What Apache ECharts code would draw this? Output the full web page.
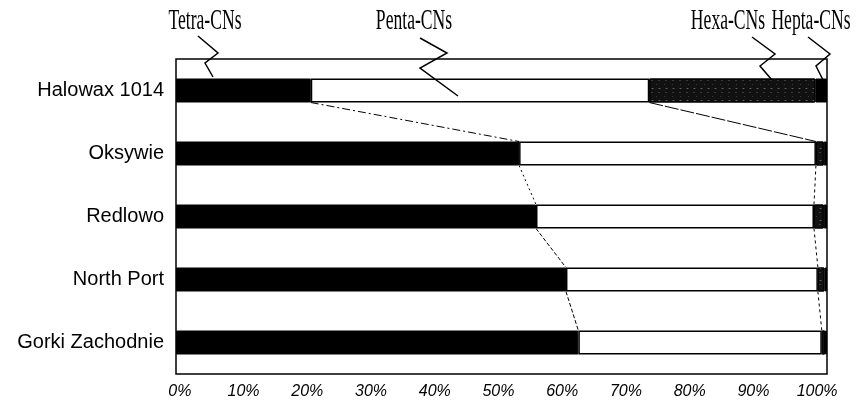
<!DOCTYPE html>
<html>
<head>
<meta charset="utf-8">
<script src="https://cdn.jsdelivr.net/npm/echarts@6/dist/echarts.min.js"></script>
<style>
  html, body { margin: 0; padding: 0; background: #fff; }
  #main { width: 856px; height: 412px; }
</style>
</head>
<body>
<div id="main"></div>
<script>
// 样品
const categories = ['Halowax 1014', 'Oksywie', 'Redlowo', 'North Port', 'Gorki Zachodnie'];
// 各同类物百分比
const tetra = [20.7, 52.7, 55.3, 59.9, 61.8];
const penta = [52.0, 45.6, 42.7, 38.7, 37.4];
const hexa = [25.5, 1.2, 1.5, 1.0, 0.5];
const hepta = [1.8, 0.5, 0.5, 0.4, 0.3];
const xTicks = [0, 10, 20, 30, 40, 50, 60, 70, 80, 90, 100];

let myChart = echarts.init(document.getElementById('main'));

// 连接线: 相邻样品之间 tetra / penta 分界
let links = [];
for (let i = 0; i < categories.length - 1; i++) {
    links.push([tetra[i], tetra[i + 1], tetra[i] + penta[i], tetra[i + 1] + penta[i + 1], i]);
}
const barW = 24;

let option = {
    animation: false,
    grid: {
        left: 176,
        right: 29,
        top: 59,
        bottom: 38,
        show: true,
        borderColor: '#000',
        borderWidth: 1.5,
        backgroundColor: '#fff'
    },
    xAxis: [
        {
            type: 'value',
            min: 0,
            max: 100,
            axisLine: { show: false },
            axisTick: { show: false },
            splitLine: { show: false },
            axisLabel: { show: false }
        },
        {
            // 仅用于刻度文字 (原图文字略偏左)
            type: 'value',
            position: 'bottom',
            min: -0.6,
            max: 101.55,
            axisLine: { show: false },
            axisTick: { show: false },
            splitLine: { show: false },
            axisLabel: {
                customValues: xTicks,
                formatter: '{value}%',
                color: '#000',
                fontFamily: 'Liberation Sans',
                fontStyle: 'italic',
                fontSize: 16,
                margin: 10
            }
        }
    ],
    yAxis: {
        type: 'category',
        data: categories,
        inverse: true,
        axisLine: { show: false },
        axisTick: { show: false },
        axisLabel: {
            color: '#000',
            fontFamily: 'Liberation Sans',
            fontSize: 20,
            margin: 12
        }
    },
    series: [
        {
            name: 'Tetra-CNs', type: 'bar', stack: 'all', barWidth: barW,
            itemStyle: { color: '#000', borderColor: '#000', borderWidth: 1 },
            data: tetra
        },
        {
            name: 'Penta-CNs', type: 'bar', stack: 'all', barWidth: barW,
            itemStyle: { color: '#fff', borderColor: '#000', borderWidth: 1.5 },
            data: penta
        },
        {
            name: 'Hexa-CNs', type: 'bar', stack: 'all', barWidth: barW,
            itemStyle: {
                color: '#111', borderColor: '#000', borderWidth: 1,
                decal: {
                    symbol: 'rect',
                    symbolSize: 0.6,
                    color: 'rgba(255,255,255,0.6)',
                    dashArrayX: [[2, 5], [1, 7], [3, 4]],
                    dashArrayY: [1, 3],
                    rotation: 0
                }
            },
            data: hexa
        },
        {
            name: 'Hepta-CNs', type: 'bar', stack: 'all', barWidth: barW,
            itemStyle: { color: '#000', borderColor: '#000', borderWidth: 1 },
            data: hepta
        },
        {
            // 分界连线
            type: 'custom',
            silent: true,
            encode: { x: [0, 1, 2, 3], y: 4 },
            renderItem: (params, api) => {
                let i = api.value(4);
                let a = api.coord([api.value(0), i]);
                let b = api.coord([api.value(1), i + 1]);
                let c = api.coord([api.value(2), i]);
                let d = api.coord([api.value(3), i + 1]);
                let dash = i === 0 ? [8, 3, 2, 3] : (i === 1 ? [2, 3] : [4, 2]);
                return {
                    type: 'group',
                    children: [
                        {
                            type: 'line',
                            shape: { x1: a[0], y1: a[1] + barW / 2, x2: b[0], y2: b[1] - barW / 2 },
                            style: { stroke: '#000', lineWidth: 1, lineDash: dash }
                        },
                        {
                            type: 'line',
                            shape: { x1: c[0], y1: c[1] + barW / 2, x2: d[0], y2: d[1] - barW / 2 },
                            style: { stroke: '#000', lineWidth: 1, lineDash: i === 0 ? [14, 2] : [3, 3] }
                        }
                    ]
                };
            },
            data: links,
            z: 5
        }
    ]
};
myChart.setOption(option);

// 顶部标注及折线引线
const topLabels = ['Tetra-CNs', 'Penta-CNs', 'Hexa-CNs', 'Hepta-CNs'];
const labelX = [205, 414, 728, 811];
const leaders = [
    [[198, 36], [218, 53], [205, 63], [213, 77]],
    [[420, 38], [447, 53], [420, 68], [458, 96]],
    [[752, 37], [775, 54], [760, 66], [772, 80]],
    [[808, 37], [830, 54], [816, 66], [823, 80]]
];
let graphics = [];
topLabels.forEach((t, k) => {
    graphics.push({
        type: 'text',
        x: labelX[k],
        y: 6,
        scaleX: 0.8,
        scaleY: 1.35,
        style: {
            text: t,
            fill: '#000',
            font: '22px "Liberation Serif"',
            textAlign: 'center',
            textVerticalAlign: 'top'
        },
        z: 10
    });
    graphics.push({
        type: 'polyline',
        shape: { points: leaders[k] },
        style: { stroke: '#000', lineWidth: 1.5, fill: null },
        z: 10
    });
});
myChart.setOption({ graphic: graphics });
</script>
</body>
</html>
